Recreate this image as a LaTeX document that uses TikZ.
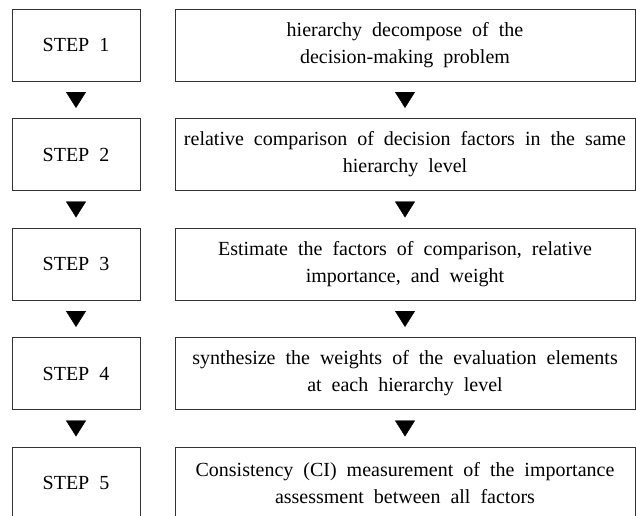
\documentclass[tikz,border=0pt]{standalone}
\usepackage{fontspec}
\setmainfont{Liberation Serif}[WordSpace=2]
\usetikzlibrary{arrows.meta,positioning}
\tikzset{
flow/.style={x=1pt,y=1pt,node distance=37.5pt,
font=\fontsize{20}{27}\selectfont},
stepbox/.style={rectangle,draw=black!80,line width=0.8pt,outer sep=0pt,
minimum width=128pt,minimum height=72pt},
taskbox/.style={stepbox,minimum width=460pt,align=center},
down/.style={-{Triangle[length=16pt,width=20pt]},line width=0.4pt,
shorten <=11pt,shorten >=10.5pt},
}

\begin{document}
\begin{tikzpicture}[flow]
\useasboundingbox (0,0) rectangle (636,-515);
\node[stepbox] (s1) at (76,-45) {STEP 1};
\node[stepbox] (s2) [below = of s1] {STEP 2};
\node[stepbox] (s3) [below = of s2] {STEP 3};
\node[stepbox] (s4) [below = of s3] {STEP 4};
\node[stepbox] (s5) [below = of s4] {STEP 5};

\node[taskbox] (t1) [right = 35pt of s1] {hierarchy decompose of the\\decision-making problem};
\node[taskbox] (t2) [right = 35pt of s2] {relative comparison of decision factors in the same\\hierarchy level};
\node[taskbox] (t3) [right = 35pt of s3] {Estimate the factors of comparison, relative\\importance, and weight};
\node[taskbox] (t4) [right = 35pt of s4] {synthesize the weights of the evaluation elements\\at each hierarchy level};
\node[taskbox] (t5) [right = 35pt of s5] {Consistency (CI) measurement of the importance\\assessment between all factors};

\foreach \a/\b in {1/2,2/3,3/4,4/5}{
  \draw[down] (s\a) -- (s\b);
  \draw[down] (t\a) -- (t\b);
}
\end{tikzpicture}
\end{document}
